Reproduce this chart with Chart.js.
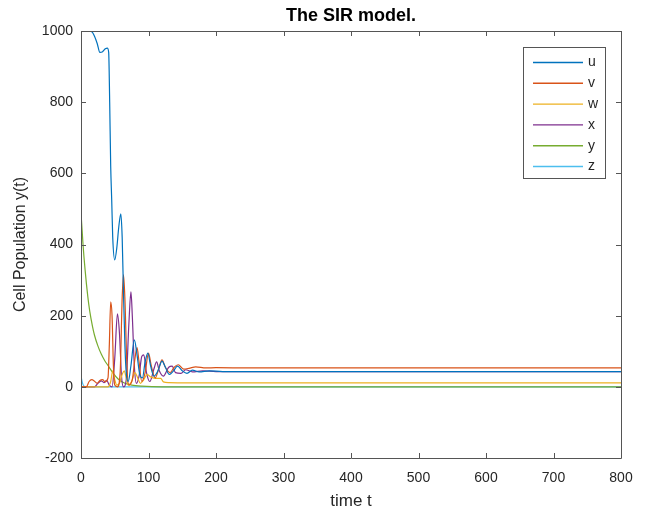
<!DOCTYPE html>
<html>
<head>
<meta charset="utf-8">
<script src="https://cdn.jsdelivr.net/npm/chart.js@4"></script>
<style>
html, body { margin: 0; padding: 0; background: #fff; }
</style>
</head>
<body>
<canvas id="chart" width="645" height="514"></canvas>
<script>
// SIR model - six populations over time

const chartTitle = "The SIR model."
const seriesNames = ["u", "v", "w", "x", "y", "z"]
const seriesColors = ["#0072BD", "#D95319", "#EDB120", "#7E2F8E", "#77AC30", "#4DBEEE"]

const xTicks = [0, 100, 200, 300, 400, 500, 600, 700, 800]
const yTicks = [-200, 0, 200, 400, 600, 800, 1000]

const uTime = [0, 10, 16, 20, 24, 28, 32, 36, 39, 41, 42.5, 44, 45.5, 47, 50, 53, 56, 59, 61, 63, 65, 67, 70, 74, 79, 83, 87, 91, 95, 99, 103, 108, 114, 120, 125, 131, 137, 143, 150, 157, 165, 175, 190, 210, 250, 800]
const uValues = [1000, 1000, 998, 985, 965, 940, 942, 950, 952, 940, 800, 620, 525, 420, 357, 390, 450, 486, 420, 260, 120, 40, 15, 60, 132, 90, 35, 25, 70, 95, 60, 30, 45, 72, 55, 35, 45, 58, 45, 38, 47, 42, 45, 43, 43, 43]

const vTime = [0, 8, 12, 16, 20, 24, 28, 32, 36, 40, 42, 44, 46, 48, 50, 54, 58, 61, 63, 65, 68, 71, 76, 80, 83, 86, 90, 95, 100, 104, 110, 115, 120, 125, 132, 138, 144, 152, 160, 170, 185, 200, 250, 800]
const vValues = [0, 0, 15, 20, 16, 10, 18, 20, 14, 25, 120, 239, 200, 60, 5, 0, 40, 250, 315, 250, 60, 5, 20, 80, 110, 70, 15, 40, 95, 60, 25, 50, 76, 55, 40, 55, 62, 50, 52, 56, 53, 54, 53, 53]

const wTime = [0, 40, 44, 47, 50, 53, 57, 61, 64, 67, 70, 75, 80, 84, 88, 93, 98, 103, 110, 118, 122, 130, 200, 800]
const wValues = [0, 0, 15, 45, 20, 5, 10, 35, 45, 25, 5, 15, 40, 25, 10, 20, 35, 28, 24, 24, 14, 12, 11, 11]

const xTime = [0, 20, 25, 30, 34, 38, 42, 46, 50, 54, 57, 60, 63, 67, 71, 74, 76, 79, 82, 86, 90, 93, 97, 102, 108, 112, 116, 122, 130, 135, 140, 148, 155, 165, 180, 200, 800]
const xValues = [0, 0, 10, 17, 12, 18, 5, 0, 80, 205, 150, 30, 0, 20, 180, 267, 200, 60, 10, 30, 85, 90, 40, 15, 50, 70, 45, 30, 55, 58, 40, 38, 48, 42, 45, 43, 43]

const yTime = [0, 3, 6, 10, 13, 17, 20, 25, 30, 35, 40, 47, 55, 65, 75, 90, 120, 800]
const yValues = [490, 400, 330, 255, 212, 170, 145, 115, 92, 74, 60, 40, 22, 10, 5, 2, 0, 0]

const zTime = [0, 2, 4, 6, 800]
const zValues = [30, 12, 3, 0, 0]

const times = [uTime, vTime, wTime, xTime, yTime, zTime]
const values = [uValues, vValues, wValues, xValues, yValues, zValues]

const FONT = "'Liberation Sans', Arial, Helvetica, sans-serif"
const AXIS_COLOR = "#555555"
const TEXT_COLOR = "#262626"

function makeDataset(i) {
    let points = times[i].map((t, k) => ({ x: t, y: values[i][k] }))
    return {
        label: seriesNames[i],
        data: points,
        borderColor: seriesColors[i],
        backgroundColor: seriesColors[i],
        borderWidth: 1.2,
        pointRadius: 0,
        cubicInterpolationMode: "monotone",
        fill: false
    }
}

// MATLAB style box with inward ticks on all four sides, title over the axes
const boxAxes = {
    id: "boxAxes",
    afterDatasetsDraw(chart) {
        const ctx = chart.ctx
        const area = chart.chartArea
        const xs = chart.scales.x
        const ys = chart.scales.y
        ctx.save()
        ctx.strokeStyle = AXIS_COLOR
        ctx.lineWidth = 1
        ctx.beginPath()
        ctx.rect(area.left + 0.5, area.top + 0.5, area.right - area.left, area.bottom - area.top)
        for (const t of xTicks) {
            const px = Math.round(xs.getPixelForValue(t)) + 0.5
            ctx.moveTo(px, area.bottom)
            ctx.lineTo(px, area.bottom - 5)
            ctx.moveTo(px, area.top)
            ctx.lineTo(px, area.top + 5)
        }
        for (const t of yTicks) {
            const py = Math.round(ys.getPixelForValue(t)) + 0.5
            ctx.moveTo(area.left, py)
            ctx.lineTo(area.left + 5, py)
            ctx.moveTo(area.right, py)
            ctx.lineTo(area.right - 5, py)
        }
        ctx.stroke()

        ctx.fillStyle = "#000"
        ctx.font = "bold 18px " + FONT
        ctx.textAlign = "center"
        ctx.textBaseline = "middle"
        ctx.fillText(chartTitle, (area.left + area.right) / 2, 16.5)
        ctx.restore()
    }
}

// legend drawn inside the plot, upper right
const boxLegend = {
    id: "boxLegend",
    afterDraw(chart) {
        const ctx = chart.ctx
        const area = chart.chartArea
        const x0 = area.right - 98
        const y0 = area.top + 16
        const w = 82
        const h = 131
        ctx.save()
        ctx.fillStyle = "#ffffff"
        ctx.fillRect(x0, y0, w, h)
        ctx.strokeStyle = AXIS_COLOR
        ctx.lineWidth = 1
        ctx.strokeRect(x0 + 0.5, y0 + 0.5, w, h)
        ctx.font = "14px " + FONT
        ctx.textBaseline = "middle"
        chart.data.datasets.forEach((ds, i) => {
            const y = y0 + 15.5 + i * 20.8
            ctx.strokeStyle = ds.borderColor
            ctx.lineWidth = 1.4
            ctx.beginPath()
            ctx.moveTo(x0 + 10, y)
            ctx.lineTo(x0 + 60, y)
            ctx.stroke()
            ctx.fillStyle = TEXT_COLOR
            ctx.fillText(ds.label, x0 + 65, y)
        })
        ctx.restore()
    }
}

let datasets = []
for (let i = 0; i < seriesNames.length; i++) {
    datasets.push(makeDataset(i))
}

new Chart(document.getElementById("chart"), {
    type: "line",
    data: { datasets: datasets },
    options: {
        responsive: false,
        animation: false,
        layout: { padding: { left: 0, right: 24, top: 31, bottom: 0 } },
        plugins: {
            legend: { display: false },
            tooltip: { enabled: false },
            title: { display: false }
        },
        scales: {
            x: {
                type: "linear",
                min: 0,
                max: 800,
                afterFit(scale) { scale.height = 56 },
                afterBuildTicks(scale) { scale.ticks = xTicks.map(v => ({ value: v })) },
                grid: { display: false, drawTicks: false },
                border: { display: false },
                ticks: {
                    color: TEXT_COLOR,
                    font: { family: FONT, size: 14 },
                    padding: 12,
                    maxRotation: 0,
                    callback: v => String(v)
                },
                title: {
                    display: true,
                    text: "time t",
                    color: TEXT_COLOR,
                    font: { family: FONT, size: 17 },
                    padding: { top: 0, bottom: 2.5 }
                }
            },
            y: {
                type: "linear",
                min: -200,
                max: 1000,
                afterFit(scale) { scale.width = 81 },
                afterBuildTicks(scale) { scale.ticks = yTicks.map(v => ({ value: v })) },
                grid: { display: false, drawTicks: false },
                border: { display: false },
                ticks: {
                    color: TEXT_COLOR,
                    font: { family: FONT, size: 14 },
                    padding: 8,
                    callback: v => String(v)
                },
                title: {
                    display: true,
                    text: "Cell Population y(t)",
                    color: TEXT_COLOR,
                    font: { family: FONT, size: 16 },
                    padding: { top: 11, bottom: 0 }
                }
            }
        }
    },
    plugins: [boxAxes, boxLegend]
})
</script>
</body>
</html>
